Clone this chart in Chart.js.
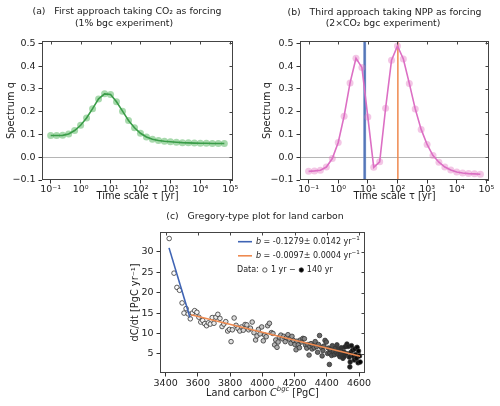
<!DOCTYPE html>
<html>
<head>
<meta charset="utf-8">
<script src="https://cdn.jsdelivr.net/npm/chart.js@4.4.0/dist/chart.umd.min.js"></script>
<style>
  html, body { margin: 0; padding: 0; background: #fff; }
  #wrap { position: relative; width: 500px; height: 406px; overflow: hidden; }
  canvas { position: absolute; }
</style>
</head>
<body>
<div id="wrap">
  <canvas id="cA" width="250" height="205" style="left:0;top:0"></canvas>
  <canvas id="cB" width="250" height="205" style="left:250px;top:0"></canvas>
  <canvas id="cC" width="500" height="206" style="left:0;top:200px"></canvas>
</div>
<script>
// spectra (a) and (b): time scales and values
const tau = [0.1, 0.158, 0.251, 0.398, 0.631, 1, 1.58, 2.51, 3.98, 6.31,
  10, 15.8, 25.1, 39.8, 63.1, 100, 158, 251, 398, 631,
  1000, 1585, 2512, 3981, 6310, 10000, 15849, 25119, 39811, 63096];
const qA = [0.095, 0.095, 0.096, 0.102, 0.117, 0.140, 0.172, 0.213, 0.256, 0.278,
  0.275, 0.243, 0.202, 0.161, 0.129, 0.105, 0.089, 0.079, 0.073, 0.070,
  0.068, 0.066, 0.064, 0.063, 0.062, 0.061, 0.061, 0.060, 0.060, 0.060];
const qB = [-0.062, -0.060, -0.057, -0.043, -0.006, 0.065, 0.180, 0.326, 0.434, 0.394,
  0.176, -0.044, -0.020, 0.215, 0.426, 0.488, 0.431, 0.324, 0.212, 0.122,
  0.056, 0.007, -0.022, -0.043, -0.056, -0.065, -0.069, -0.072, -0.073, -0.075];
const tauTicks = [0.1, 1, 10, 100, 1000, 10000, 100000];
const qTicks = [-0.1, 0, 0.1, 0.2, 0.3, 0.4, 0.5];

// Gregory fits
const slopeBlue = -0.1279, errBlue = 0.0142;
const slopeOrange = -0.0097, errOrange = 0.0004;
const blueFit = [{ x: 3421, y: 31.0 }, { x: 3551, y: 13.9 }];
const orangeFit = [{ x: 3557, y: 14.6 }, { x: 4607, y: 4.4 }];

// panel (c): land carbon vs dC/dt, year 1 .. 140
const landC = [3422, 3452, 3470, 3486, 3502, 3514, 3527, 3540, 3553, 3566,
  3580, 3594, 3606, 3618, 3630, 3642, 3654, 3665, 3677, 3689,
  3700, 3712, 3724, 3737, 3750, 3761, 3773, 3785, 3796, 3806,
  3814, 3825, 3837, 3849, 3860, 3871, 3882, 3893, 3904, 3915,
  3926, 3937, 3948, 3958, 3967, 3976, 3986, 3996, 4006, 4014,
  4024, 4033, 4044, 4056, 4066, 4076, 4083, 4091, 4098, 4106,
  4115, 4124, 4133, 4142, 4150, 4159, 4168, 4177, 4184, 4193,
  4202, 4209, 4215, 4223, 4230, 4236, 4244, 4252, 4261, 4269,
  4276, 4283, 4290, 4295, 4302, 4309, 4315, 4322, 4328, 4336,
  4343, 4348, 4355, 4365, 4371, 4376, 4382, 4389, 4397, 4405,
  4410, 4416, 4419, 4424, 4430, 4434, 4441, 4447, 4452, 4458,
  4463, 4470, 4475, 4481, 4485, 4490, 4496, 4500, 4504, 4509,
  4513, 4520, 4525, 4532, 4539, 4543, 4545, 4548, 4553, 4560,
  4566, 4570, 4573, 4579, 4584, 4588, 4594, 4597, 4603, 4607];
const dCdt = [33.3, 24.8, 21.3, 20.6, 17.5, 15.0, 16.1, 14.8, 13.6, 15.0,
  15.6, 15.2, 14.0, 12.8, 13.2, 12.4, 11.9, 12.6, 12.3, 13.9,
  12.5, 14.0, 14.7, 13.7, 11.7, 12.3, 12.9, 10.6, 11.0, 8.0,
  10.9, 13.8, 12.0, 11.2, 10.6, 11.6, 10.8, 12.2, 12.1, 10.9,
  11.3, 12.8, 10.2, 8.4, 9.4, 11.0, 9.9, 11.6, 8.2, 9.6,
  9.2, 11.9, 12.5, 10.2, 10.0, 7.2, 8.4, 6.6, 7.9, 9.1,
  9.6, 8.7, 9.3, 8.0, 9.0, 9.7, 8.6, 7.6, 9.3, 8.3,
  7.3, 6.0, 8.1, 7.2, 6.5, 8.4, 7.9, 8.8, 8.7, 7.1,
  6.4, 7.3, 4.7, 6.8, 7.5, 6.2, 7.0, 6.5, 8.0, 6.8,
  5.4, 7.3, 9.5, 6.6, 4.5, 5.8, 6.9, 8.3, 7.9, 5.1,
  6.4, 2.4, 5.2, 6.0, 4.6, 7.0, 5.6, 4.8, 6.3, 5.4,
  7.2, 4.9, 6.1, 4.3, 5.0, 6.5, 4.6, 3.9, 5.5, 4.4,
  6.7, 5.1, 7.4, 6.8, 4.2, 1.8, 3.0, 5.3, 7.0, 5.9,
  4.4, 3.5, 6.2, 4.8, 3.9, 6.6, 2.8, 5.7, 4.5, 3.0];
const carbonTicks = [3400, 3600, 3800, 4000, 4200, 4400, 4600];
const rateTicks = [5, 10, 15, 20, 25, 30];

Chart.defaults.font.family = "'DejaVu Sans', sans-serif";
Chart.defaults.font.size = 9.5;
Chart.defaults.color = '#222';

const FONT = "'DejaVu Sans', sans-serif";

function sup(n) {
  const m = { '-': '⁻', '0': '⁰', '1': '¹', '2': '²', '3': '³', '4': '⁴', '5': '⁵', '6': '⁶', '7': '⁷', '8': '⁸', '9': '⁹' };
  return String(n).split('').map(c => m[c]).join('');
}
function minus(s) { return s.replace('-', '−'); }

// matplotlib Greys
const greyStops = [255, 240, 217, 189, 150, 115, 82, 37, 0];
function greys(t) {
  const p = t * 8, i = Math.min(7, Math.floor(p)), f = p - i;
  const g = Math.round(greyStops[i] + (greyStops[i + 1] - greyStops[i]) * f);
  return `rgb(${g},${g},${g})`;
}

// draws pieces of text with different fonts one after the other
function drawRuns(ctx, runs, x, y, align) {
  ctx.save();
  ctx.textBaseline = 'middle';
  ctx.textAlign = 'left';
  let total = 0;
  runs.forEach(r => {
    if (r.circle) { r.w = r.w || 8; } else { ctx.font = r.font; r.w = ctx.measureText(r.t).width; }
    total += r.w;
  });
  let cx = align === 'center' ? x - total / 2 : x;
  runs.forEach(r => {
    if (r.circle) {
      ctx.beginPath();
      ctx.arc(cx + r.w / 2, y, 2.2, 0, Math.PI * 2);
      ctx.fillStyle = r.circle === 'filled' ? '#000' : '#fff';
      ctx.fill();
      ctx.lineWidth = 0.8; ctx.strokeStyle = '#333'; ctx.stroke();
    } else {
      ctx.font = r.font;
      ctx.fillStyle = '#222';
      ctx.fillText(r.t, cx, y + (r.dy || 0));
    }
    cx += r.w;
  });
  ctx.restore();
}

const textPlugin = {
  id: 'texts',
  afterDraw(chart, args, opts) {
    const ctx = chart.ctx;
    (opts.items || []).forEach(it => {
      if (it.runs) { drawRuns(ctx, it.runs, it.x, it.y, it.align); return; }
      ctx.save();
      ctx.font = it.font || `9.3px ${FONT}`;
      ctx.fillStyle = '#222';
      ctx.textAlign = it.align || 'center';
      ctx.textBaseline = 'middle';
      ctx.fillText(it.text, it.x, it.y);
      ctx.restore();
    });
    (opts.lines || []).forEach(l => {
      ctx.save();
      ctx.strokeStyle = l.color; ctx.lineWidth = l.width;
      ctx.beginPath(); ctx.moveTo(l.x0, l.y); ctx.lineTo(l.x1, l.y); ctx.stroke();
      ctx.restore();
    });
  }
};

// axes box, inward ticks on top/right, uncertainty bands
const framePlugin = {
  id: 'frame',
  beforeDatasetsDraw(chart, args, opts) {
    const { ctx, chartArea: a, scales: { x } } = chart;
    (opts.bands || []).forEach(b => {
      const x0 = x.getPixelForValue(b.from), x1 = x.getPixelForValue(b.to);
      ctx.save();
      ctx.fillStyle = b.color;
      ctx.fillRect(Math.min(x0, x1), a.top, Math.max(1, Math.abs(x1 - x0)), a.height);
      ctx.restore();
    });
  },
  afterDraw(chart) {
    const { ctx, chartArea: a, scales: { x, y } } = chart;
    ctx.save();
    ctx.strokeStyle = '#444';
    ctx.lineWidth = 1;
    ctx.strokeRect(a.left + 0.5, a.top + 0.5, a.width - 1, a.height - 1);
    ctx.beginPath();
    x.ticks.forEach(t => {
      const px = Math.round(x.getPixelForValue(t.value)) + 0.5;
      ctx.moveTo(px, a.top); ctx.lineTo(px, a.top + 3.5);
    });
    y.ticks.forEach(t => {
      const py = Math.round(y.getPixelForValue(t.value)) + 0.5;
      ctx.moveTo(a.right, py); ctx.lineTo(a.right - 3.5, py);
    });
    ctx.stroke();
    ctx.restore();
  }
};

function spectrumChart(id, q, col, layoutPad, yWidth, yTitlePad, titles, extra, bands) {
  const pts = tau.map((t, i) => ({ x: t, y: q[i] }));
  return new Chart(document.getElementById(id), {
    type: 'line',
    data: {
      datasets: [
        { data: pts, borderColor: col.line, borderWidth: 1.6, pointRadius: 0, tension: 0, order: 0 },
        { data: pts, showLine: false, pointRadius: 3.5, pointBackgroundColor: col.point, pointBorderWidth: 0, order: 1 }
      ].concat(extra)
    },
    options: {
      responsive: false, animation: false, devicePixelRatio: 1,
      layout: { padding: layoutPad },
      plugins: {
        legend: { display: false }, tooltip: { enabled: false },
        texts: { items: titles },
        frame: { bands: bands }
      },
      scales: {
        x: {
          type: 'logarithmic', min: Math.pow(10, -1.29), max: Math.pow(10, 5.09),
          afterBuildTicks: s => { s.ticks = tauTicks.map(v => ({ value: v })); },
          afterFit: s => { s.height = 25; },
          ticks: { callback: v => '10' + sup(Math.round(Math.log10(v))), padding: 0, maxRotation: 0, autoSkip: false },
          grid: { drawOnChartArea: false, tickLength: 3.5, tickColor: '#333' },
          border: { display: false },
          title: { display: true, text: 'Time scale τ [yr]', font: { size: 9.8 }, padding: { top: 0, bottom: 2.2 } }
        },
        y: {
          min: -0.1, max: 0.51,
          afterBuildTicks: s => { s.ticks = qTicks.map(v => ({ value: v })); },
          afterFit: s => { s.width = yWidth; },
          ticks: { callback: v => minus(v.toFixed(1)), padding: 3 },
          grid: { color: c => (c.tick && Math.abs(c.tick.value) < 1e-9) ? '#b5b5b5' : 'rgba(0,0,0,0)', tickLength: 3.5, tickColor: '#333' },
          border: { display: false },
          title: { display: true, text: 'Spectrum q', font: { size: 9.8 }, padding: { top: yTitlePad, bottom: 0 } }
        }
      }
    },
    plugins: [framePlugin, textPlugin]
  });
}

// (a)
spectrumChart('cA', qA, { line: '#3a9c48', point: 'rgba(60,170,70,0.45)' },
  { top: 41, left: 0, right: 17, bottom: 0 }, 42, 5.5,
  [{ text: '(a)   First approach taking CO₂ as forcing', x: 127, y: 12 },
   { text: '(1% bgc experiment)', x: 124, y: 23.5 }], [], []);

// (b)
const tauBlue = 1 / Math.abs(slopeBlue), tauOrange = 1 / Math.abs(slopeOrange);
spectrumChart('cB', qB, { line: '#dc6fc4', point: 'rgba(227,119,194,0.42)' },
  { top: 41, left: 0, right: 11, bottom: 0 }, 50, 11.5,
  [{ text: '(b)   Third approach taking NPP as forcing', x: 134.5, y: 12.5 },
   { text: '(2×CO₂ bgc experiment)', x: 133, y: 24 }],
  [
    { data: [{ x: tauBlue, y: -0.1 }, { x: tauBlue, y: 0.51 }], borderColor: '#5576b8', borderWidth: 2.2, pointRadius: 0, order: 2 },
    { data: [{ x: tauOrange, y: -0.1 }, { x: tauOrange, y: 0.51 }], borderColor: '#ee8a50', borderWidth: 1.4, pointRadius: 0, order: 2 }
  ],
  [
    { from: 1 / (Math.abs(slopeBlue) + errBlue), to: 1 / (Math.abs(slopeBlue) - errBlue), color: 'rgba(110,145,210,0.55)' },
    { from: 1 / (Math.abs(slopeOrange) + errOrange), to: 1 / (Math.abs(slopeOrange) - errOrange), color: 'rgba(240,140,80,0.4)' }
  ]);

// (c)
const scatterPts = landC.map((c, i) => ({ x: c, y: dCdt[i] }));
const fills = landC.map((c, i) => greys(i / (landC.length - 1)));
const legendFont = `8px ${FONT}`;
new Chart(document.getElementById('cC'), {
  type: 'scatter',
  data: {
    datasets: [
      { type: 'line', data: blueFit, borderColor: '#3f64b4', borderWidth: 1.6, pointRadius: 0, order: 0 },
      { type: 'line', data: orangeFit, borderColor: '#ee8a50', borderWidth: 1.6, pointRadius: 0, order: 0 },
      { data: scatterPts, pointRadius: 2.3, pointBackgroundColor: fills, pointBorderColor: '#333', pointBorderWidth: 0.8, order: 1 }
    ]
  },
  options: {
    responsive: false, animation: false, devicePixelRatio: 1,
    layout: { padding: { top: 32, left: 126, right: 135, bottom: 0 } },
    plugins: {
      legend: { display: false }, tooltip: { enabled: false },
      texts: {
        items: [
          { text: '(c)   Gregory-type plot for land carbon', x: 255, y: 17 },
          { runs: [
            { t: 'Land carbon ', font: `9.8px ${FONT}` },
            { t: 'C', font: `italic 9.8px ${FONT}` },
            { t: 'bgc', font: `italic 6.8px ${FONT}`, dy: -4 },
            { t: ' [PgC]', font: `9.8px ${FONT}` }
          ], x: 262.5, y: 193, align: 'center' },
          { runs: [
            { t: 'b', font: `italic 8px ${FONT}` },
            { t: ' = -0.1279± 0.0142 yr', font: legendFont },
            { t: '−1', font: `5.6px ${FONT}`, dy: -3 }
          ], x: 256, y: 41.7 },
          { runs: [
            { t: 'b', font: `italic 8px ${FONT}` },
            { t: ' = -0.0097± 0.0004 yr', font: legendFont },
            { t: '−1', font: `5.6px ${FONT}`, dy: -3 }
          ], x: 256, y: 55.8 },
          { runs: [
            { t: 'Data: ', font: legendFont },
            { circle: 'open', w: 7 },
            { t: ' 1 yr − ', font: legendFont },
            { circle: 'filled', w: 6 },
            { t: ' 140 yr', font: legendFont }
          ], x: 237, y: 70 }
        ],
        lines: [
          { x0: 238, x1: 252, y: 41.7, color: '#3f64b4', width: 1.6 },
          { x0: 238, x1: 252, y: 55.8, color: '#ee8a50', width: 1.6 }
        ]
      },
      frame: { bands: [] }
    },
    scales: {
      x: {
        type: 'linear', min: 3365, max: 4637,
        afterBuildTicks: s => { s.ticks = carbonTicks.map(v => ({ value: v })); },
        afterFit: s => { s.height = 33; },
        ticks: { padding: 1, maxRotation: 0, autoSkip: false, callback: v => String(v) },
        grid: { drawOnChartArea: false, tickLength: 3.5, tickColor: '#333' },
        border: { display: false },
        title: { display: false }
      },
      y: {
        min: 0.3, max: 34.9,
        afterBuildTicks: s => { s.ticks = rateTicks.map(v => ({ value: v })); },
        afterFit: s => { s.width = 34; },
        ticks: { padding: 3, callback: v => String(v) },
        grid: { drawOnChartArea: false, tickLength: 3.5, tickColor: '#333' },
        border: { display: false },
        title: { display: true, text: 'dC/dt [PgC yr⁻¹]', font: { size: 9.8 }, padding: { top: 4, bottom: 0 } }
      }
    }
  },
  plugins: [framePlugin, textPlugin]
});
</script>
</body>
</html>
